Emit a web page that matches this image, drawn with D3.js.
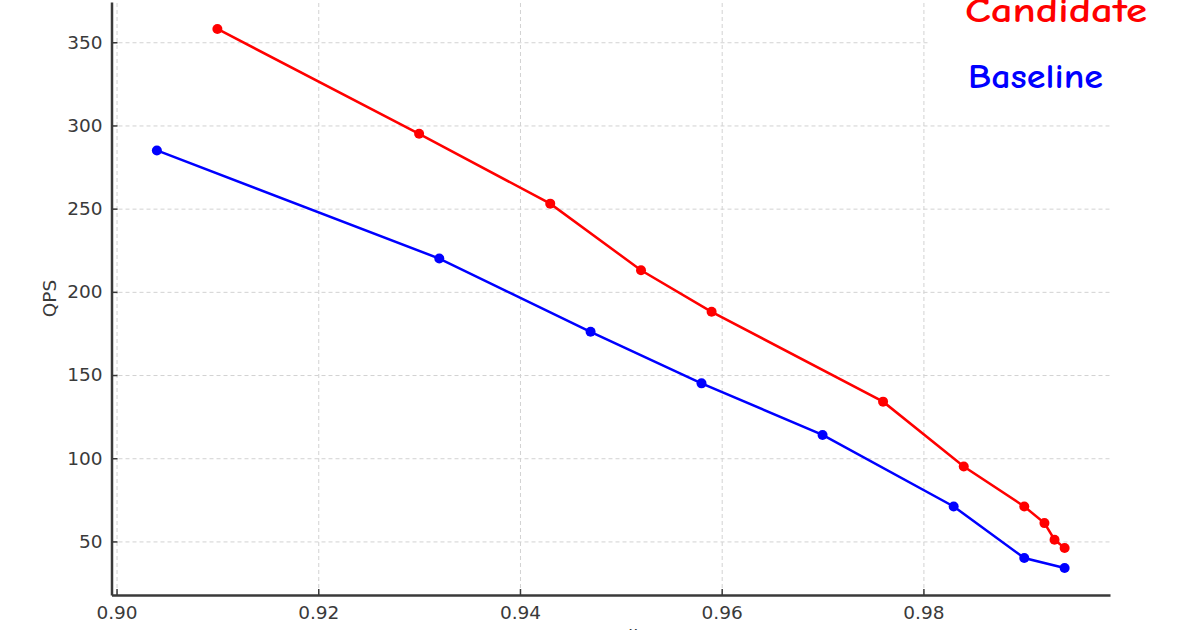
<!DOCTYPE html>
<html>
<head>
<meta charset="utf-8">
<script src="https://cdn.jsdelivr.net/npm/d3@7"></script>
<style>
  body { margin: 0; background: #fff; }
  svg { display: block; }
  .tick text { font-family: "DejaVu Sans", sans-serif; font-size: 18.5px; fill: #3a3a3a; }
  .axis path, .axis line { stroke: #3a3a3a; }
  .grid line { stroke: #d2d2d2; stroke-dasharray: 4,3; }
  .grid path { display: none; }
</style>
</head>
<body>
<div id="chart"></div>
<script>
// recall values and QPS for each run
let candidateRecall = [0.910, 0.930, 0.943, 0.952, 0.959, 0.976, 0.984, 0.990, 0.992, 0.993, 0.994]
let candidateQps = [358, 295, 253, 213, 188, 134, 95, 71, 61, 51, 46]
let baselineRecall = [0.904, 0.932, 0.947, 0.958, 0.970, 0.983, 0.990, 0.994]
let baselineQps = [285, 220, 176, 145, 114, 71, 40, 34]
let xTicks = [0.90, 0.92, 0.94, 0.96, 0.98]
let yTicks = [50, 100, 150, 200, 250, 300, 350]
let seriesNames = ["Candidate", "Baseline"]

let width = 1199, height = 630
let margin = {top: 2, right: 89, bottom: 35, left: 111.5}
let plotW = width - margin.left - margin.right,
    plotH = height - margin.top - margin.bottom

let svg = d3.select("#chart")
    .append("svg")
    .attr("width", width)
    .attr("height", height)

let g = svg.append("g")
    .attr("transform", "translate(" + margin.left + "," + margin.top + ")")

// x and y scales with matplotlib style 5% padding
let x = d3.scaleLinear().domain([0.8995, 0.9985]).range([0, plotW])
let y = d3.scaleLinear().domain([17.8, 374.2]).range([plotH, 0])

// grid lines
g.append("g")
    .attr("class", "grid")
    .attr("transform", "translate(0," + plotH + ")")
    .call(d3.axisBottom(x).tickValues(xTicks).tickSize(-plotH).tickFormat(""))
g.append("g")
    .attr("class", "grid")
    .call(d3.axisLeft(y).tickValues(yTicks).tickSize(-plotW).tickFormat(""))

// white box behind the legend
g.append("rect")
    .attr("x", x(0.9806))
    .attr("y", -margin.top)
    .attr("width", width - margin.left - x(0.9806))
    .attr("height", 100)
    .attr("fill", "#fff")

// axes with inward ticks
let xAxis = g.append("g")
    .attr("class", "axis")
    .attr("transform", "translate(0," + plotH + ")")
    .call(d3.axisBottom(x).tickValues(xTicks).tickSizeInner(-6).tickSizeOuter(0)
        .tickFormat(d3.format(".2f")))
xAxis.selectAll(".tick text").attr("y", 24).attr("dy", 0)
xAxis.selectAll(".tick line").attr("stroke-width", 1.5)
xAxis.select(".domain").attr("stroke-width", 2.5)

let yAxis = g.append("g")
    .attr("class", "axis")
    .call(d3.axisLeft(y).tickValues(yTicks).tickSizeInner(-6).tickSizeOuter(0))
yAxis.selectAll(".tick text").attr("x", -9)
yAxis.selectAll(".tick line").attr("stroke-width", 1.5)
yAxis.select(".domain").attr("stroke-width", 2.5)

// axis labels
g.append("text")
    .attr("transform", "rotate(-90)")
    .attr("x", -plotH / 2)
    .attr("y", -margin.left + 56)
    .style("text-anchor", "middle")
    .style("font-family", "DejaVu Sans, sans-serif")
    .style("font-size", "18.5px")
    .attr("fill", "#3a3a3a")
    .text("QPS")

g.append("text")
    .attr("x", plotW / 2)
    .attr("y", plotH + 48)
    .style("text-anchor", "middle")
    .style("font-family", "DejaVu Sans, sans-serif")
    .style("font-size", "18.5px")
    .attr("fill", "#3a3a3a")
    .text("Recall")

// lines and markers
let line = d3.line().x(d => x(d[0])).y(d => y(d[1]))
let series = [
    {name: seriesNames[0], color: "#ff0000", pts: d3.zip(candidateRecall, candidateQps)},
    {name: seriesNames[1], color: "#0000ff", pts: d3.zip(baselineRecall, baselineQps)}
]

series.forEach(function(s) {
    g.append("path")
        .datum(s.pts)
        .attr("d", line)
        .attr("fill", "none")
        .attr("stroke", s.color)
        .attr("stroke-width", 2.5)
    g.selectAll(null)
        .data(s.pts)
        .enter()
        .append("circle")
        .attr("cx", d => x(d[0]))
        .attr("cy", d => y(d[1]))
        .attr("r", 5)
        .attr("fill", s.color)
})

// handwritten style legend labels
svg.append("text")
    .attr("x", 965)
    .attr("y", 22)
    .attr("textLength", 182)
    .attr("lengthAdjust", "spacingAndGlyphs")
    .style("font-family", "'Humor Sans', 'Comic Sans MS', 'Comic Neue', cursive")
    .style("font-size", "34px")
    .style("font-weight", "bold")
    .attr("fill", "#ff0000")
    .text(seriesNames[0])

svg.append("text")
    .attr("x", 968)
    .attr("y", 88)
    .attr("textLength", 135)
    .attr("lengthAdjust", "spacingAndGlyphs")
    .style("font-family", "'Humor Sans', 'Comic Sans MS', 'Comic Neue', cursive")
    .style("font-size", "34px")
    .style("font-weight", "bold")
    .attr("fill", "#0000ff")
    .text(seriesNames[1])
</script>
</body>
</html>
